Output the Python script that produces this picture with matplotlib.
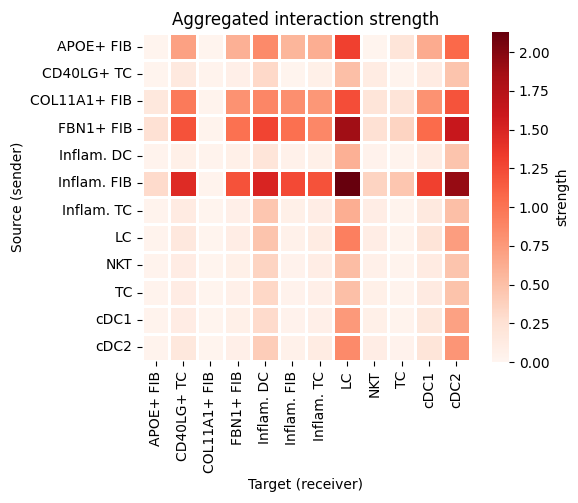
import numpy as np
import pandas as pd
import matplotlib
matplotlib.use("Agg")
import matplotlib.pyplot as plt
import seaborn as sns

cells = ["APOE+ FIB", "CD40LG+ TC", "COL11A1+ FIB", "FBN1+ FIB", "Inflam. DC",
         "Inflam. FIB", "Inflam. TC", "LC", "NKT", "TC", "cDC1", "cDC2"]

# rows = sender, columns = receiver
apoe_fib = [0.02, 0.70, 0.02, 0.60, 0.85, 0.57, 0.62, 1.30, 0.02, 0.20, 0.64, 1.07]
cd40lg_tc = [0.02, 0.15, 0.03, 0.08, 0.32, 0.02, 0.07, 0.50, 0.12, 0.03, 0.13, 0.47]
col11a1_fib = [0.17, 0.96, 0.03, 0.80, 0.88, 0.82, 0.77, 1.23, 0.20, 0.22, 0.80, 1.19]
fbn1_fib = [0.25, 1.20, 0.03, 1.02, 1.28, 1.03, 0.87, 1.88, 0.25, 0.35, 1.06, 1.63]
inflam_dc = [0.03, 0.07, 0.03, 0.07, 0.20, 0.05, 0.07, 0.60, 0.04, 0.03, 0.12, 0.47]
inflam_fib = [0.30, 1.45, 0.03, 1.20, 1.50, 1.25, 1.20, 2.13, 0.35, 0.45, 1.30, 1.93]
inflam_tc = [0.03, 0.13, 0.02, 0.08, 0.45, 0.07, 0.10, 0.62, 0.10, 0.03, 0.15, 0.50]
lc = [0.03, 0.16, 0.02, 0.10, 0.47, 0.05, 0.12, 0.93, 0.10, 0.03, 0.22, 0.73]
nkt = [0.03, 0.11, 0.02, 0.07, 0.35, 0.04, 0.10, 0.52, 0.06, 0.03, 0.13, 0.47]
tc = [0.03, 0.11, 0.02, 0.06, 0.33, 0.04, 0.08, 0.50, 0.07, 0.03, 0.14, 0.48]
cdc1 = [0.03, 0.11, 0.02, 0.07, 0.30, 0.04, 0.08, 0.75, 0.07, 0.03, 0.17, 0.70]
cdc2 = [0.03, 0.17, 0.02, 0.08, 0.40, 0.05, 0.12, 0.85, 0.10, 0.04, 0.20, 0.78]

mat = pd.DataFrame([apoe_fib, cd40lg_tc, col11a1_fib, fbn1_fib, inflam_dc, inflam_fib,
                    inflam_tc, lc, nkt, tc, cdc1, cdc2], index=cells, columns=cells)

fig = plt.figure(figsize=(5.78, 5.03), dpi=100)
ax = fig.add_axes([142 / 578, 1 - 361 / 503, 328 / 578, 328 / 503])
cax = fig.add_axes([492 / 578, 1 - 362 / 503, 17 / 578, 330 / 503])
sns.heatmap(mat, cmap="Reds", vmin=0, linewidths=1, linecolor="white",
            cbar_ax=cax, cbar_kws={"label": "strength"}, ax=ax)
ax.set_title("Aggregated interaction strength")
ax.set_xlabel("Target (receiver)")
ax.set_ylabel("Source (sender)")
plt.savefig("out.png", dpi=100)
plt.close()
